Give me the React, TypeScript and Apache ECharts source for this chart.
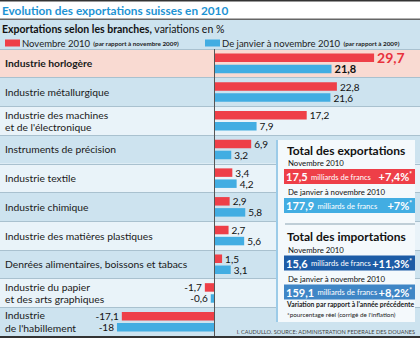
import React, { useEffect, useRef } from "react";
import * as echarts from "echarts";

// Branches, top to bottom
const categories = [
  "Industrie horlogère",
  "Industrie métallurgique",
  "Industrie des machines\net de l'électronique",
  "Instruments de précision",
  "Industrie textile",
  "Industrie chimique",
  "Industrie des matières plastiques",
  "Denrées alimentaires, boissons et tabacs",
  "Industrie du papier\net des arts graphiques",
  "Industrie\nde l'habillement",
];

// Variation in % per branch
const novembre2010 = [29.7, 22.8, 17.2, 6.9, 3.4, 2.9, 2.7, 1.5, -1.7, -17.1];
const janvierNovembre2010 = [21.8, 21.6, 7.9, 3.2, 4.2, 5.8, 5.6, 3.1, -0.6, -18];

const seriesNames = ["Novembre 2010", "De janvier à novembre 2010"];
const seriesNotes = ["(par rapport à novembre 2009)", "(par rapport à 2009)"];

// Summary totals
const exportTotals = [
  { period: "Novembre 2010", amount: "17,5", change: "+7,4%" },
  { period: "De janvier à novembre 2010", amount: "177,9", change: "+7%" },
];
const importTotals = [
  { period: "Novembre 2010", amount: "15,6", change: "+11,3%" },
  { period: "De janvier à novembre 2010", amount: "159,1", change: "+8,2%" },
];

const FONT = "Lato, 'Open Sans', sans-serif";
const RED = "#ee3f48";
const BLUE = "#42ade2";
const ROW_COLORS = [
  "#f9dad2",
  "#cde3ef",
  "#e9f3f9",
  "#cde3ef",
  "#e9f3f9",
  "#cde3ef",
  "#e9f3f9",
  "#cde3ef",
  "#e9f3f9",
  "#cde3ef",
];

const W = 420;
const H = 338;
const ZERO_X = 214; // position of the zero line
const PX_PER_UNIT = 5.39;
const GRID_TOP = 49;
const GRID_BOTTOM = 336;

const fmt = (v: number) =>
  Number.isInteger(v) ? String(v) : String(v).replace(".", ",");

function totalsBlock(
  title: string,
  y0: number,
  entries: { period: string; amount: string; change: string }[],
  colors: string[]
) {
  const els: any[] = [];
  els.push({
    type: "text",
    x: 287,
    y: y0,
    z: 110,
    style: {
      text: title,
      fontFamily: FONT,
      fontSize: 12,
      fontWeight: "bold",
      fill: "#111",
      verticalAlign: "middle",
    },
  });
  entries.forEach((e, i) => {
    const py = y0 + 13 + i * 29;
    els.push({
      type: "text",
      x: 288,
      y: py,
      z: 110,
      style: {
        text: e.period,
        fontFamily: FONT,
        fontSize: 7.8,
        fill: "#111",
        verticalAlign: "middle",
      },
    });
    els.push({
      type: "rect",
      z: 105,
      shape: { x: 284, y: py + 6, width: 131, height: 15 },
      style: { fill: colors[i] },
    });
    els.push({
      type: "text",
      x: 286,
      y: py + 13.5,
      z: 110,
      style: {
        text: `{a|${e.amount}} {b|milliards de francs}`,
        verticalAlign: "middle",
        rich: {
          a: { fontFamily: FONT, fontSize: 11, fontWeight: "bold", fill: "#fff" },
          b: { fontFamily: FONT, fontSize: 7.6, fill: "#fff" },
        },
      },
    });
    els.push({
      type: "text",
      x: 412,
      y: py + 13.5,
      z: 110,
      style: {
        text: `{c|${e.change}}{s|*}`,
        align: "right",
        verticalAlign: "middle",
        rich: {
          c: { fontFamily: FONT, fontSize: 11, fontWeight: "bold", fill: "#fff" },
          s: { fontFamily: FONT, fontSize: 6.5, fontWeight: "bold", fill: "#fff", verticalAlign: "top" },
        },
      },
    });
  });
  return els;
}

export default function App() {
  const ref = useRef<HTMLDivElement>(null);

  useEffect(() => {
    if (!ref.current) return;
    const chart = echarts.init(ref.current, null, { renderer: "svg" });

    const labelBase = {
      show: true,
      distance: 3,
      fontFamily: FONT,
      fontSize: 10,
      color: "#111",
      formatter: (p: any) => fmt(p.value),
    };

    const buildData = (vals: number[], first: any) =>
      vals.map((v, i) => ({
        value: v,
        label: {
          position: v < 0 ? "left" : "right",
          ...(i === 0 ? first : {}),
        },
      }));

    const legendRich = {
      n: { fontFamily: FONT, fontSize: 9.5, color: "#222" },
      s: { fontFamily: FONT, fontSize: 6.3, fontWeight: "bold", color: "#222" },
    };

    const legendBase = {
      top: 37,
      padding: 0,
      itemWidth: 15,
      itemHeight: 7,
      icon: "rect",
      selectedMode: false,
      textStyle: { rich: legendRich, padding: [0, 0, 0, -3] },
    };

    const graphics: any[] = [
      // frame lines
      { type: "rect", z: 120, shape: { x: 0, y: 0, width: W, height: 1.5 }, style: { fill: "#333" } },
      { type: "rect", z: 1, shape: { x: 0, y: 20, width: W, height: 29 }, style: { fill: "#cde3ef" } },
      { type: "rect", z: 120, shape: { x: 0, y: 18.5, width: W, height: 1.5 }, style: { fill: "#666" } },
      { type: "rect", z: 120, shape: { x: 0, y: 336, width: W, height: 2 }, style: { fill: "#333" } },
      {
        type: "text",
        x: 2,
        y: 29,
        z: 110,
        style: {
          text: "{b|Exportations selon les branches,}{r| variations en %}",
          verticalAlign: "middle",
          rich: {
            b: { fontFamily: FONT, fontSize: 10.5, fontWeight: "bold", fill: "#111" },
            r: { fontFamily: FONT, fontSize: 10.5, fill: "#111" },
          },
        },
      },
      // totals panel
      { type: "rect", z: 100, shape: { x: 277, y: 140, width: 138, height: 182 }, style: { fill: "#f4f9fc" } },
      { type: "rect", z: 101, shape: { x: 276, y: 140, width: 2, height: 182 }, style: { fill: "#9ccbe8" } },
      {
        type: "line",
        z: 101,
        shape: { x1: 285, y1: 224, x2: 415, y2: 224 },
        style: { stroke: "#8aa3b2", lineWidth: 1 },
      },
      ...totalsBlock("Total des exportations", 150, exportTotals, [RED, BLUE]),
      ...totalsBlock("Total des importations", 236.5, importTotals, ["#1d5ca6", "#3f86c6"]),
      {
        type: "text",
        x: 287,
        y: 304,
        z: 110,
        style: {
          text: "Variation par rapport à l'année précédente",
          fontFamily: FONT,
          fontSize: 6.8,
          fontWeight: "bold",
          fill: "#222",
          verticalAlign: "middle",
        },
      },
      {
        type: "text",
        x: 287,
        y: 314,
        z: 110,
        style: {
          text: "*pourcentage réel (corrigé de l'inflation)",
          fontFamily: FONT,
          fontSize: 6.3,
          fill: "#222",
          verticalAlign: "middle",
        },
      },
      {
        type: "text",
        x: 415,
        y: 331,
        z: 110,
        style: {
          text: "I. CAUDULLO. SOURCE: ADMINISTRATION FEDERALE DES DOUANES",
          fontFamily: FONT,
          fontSize: 5.6,
          fill: "#444",
          align: "right",
          verticalAlign: "middle",
        },
      },
    ];

    chart.setOption({
      animation: false,
      backgroundColor: "#ffffff",
      title: {
        text: "Evolution des exportations suisses en 2010",
        left: 2,
        top: 4,
        padding: 0,
        textStyle: {
          fontFamily: FONT,
          fontSize: 11.8,
          fontWeight: "bold",
          color: "#1d93d3",
        },
      },
      legend: [
        {
          ...legendBase,
          data: [seriesNames[0]],
          left: 5,
          formatter: (n: string) => `{n|${n}} {s|${seriesNotes[0]}}`,
        },
        {
          ...legendBase,
          data: [seriesNames[1]],
          left: 205,
          formatter: (n: string) => `{n|${n}} {s|${seriesNotes[1]}}`,
        },
      ],
      grid: {
        left: 0,
        right: 0,
        top: GRID_TOP,
        bottom: H - GRID_BOTTOM,
        containLabel: false,
      },
      xAxis: {
        type: "value",
        min: -ZERO_X / PX_PER_UNIT,
        max: (W - ZERO_X) / PX_PER_UNIT,
        show: false,
        splitLine: { show: false },
      },
      yAxis: {
        type: "category",
        data: categories,
        inverse: true,
        axisLine: { show: false },
        axisTick: { show: false },
        splitArea: { show: true, areaStyle: { color: ROW_COLORS } },
        splitLine: { show: true, lineStyle: { color: "#a9c1cf", width: 1 } },
        axisLabel: {
          inside: true,
          margin: 5,
          interval: 0,
          formatter: (v: string, i: number) =>
            v
              .split("\n")
              .map((l) => `{${i === 0 ? "b" : "n"}|${l}}`)
              .join("\n"),
          rich: {
            n: { fontFamily: FONT, fontSize: 10.3, color: "#1a1a1a", lineHeight: 12.5 },
            b: { fontFamily: FONT, fontSize: 10.3, fontWeight: "bold", color: "#1a1a1a", lineHeight: 12.5 },
          },
        },
      },
      series: [
        {
          name: seriesNames[0],
          type: "bar",
          barWidth: 8.5,
          barGap: "30%",
          itemStyle: { color: RED },
          label: labelBase,
          data: buildData(novembre2010, {
            color: "#e8323c",
            fontSize: 14,
            fontWeight: "bold",
          }),
          markLine: {
            silent: true,
            symbol: ["none", "none"],
            label: { show: false },
            lineStyle: { color: "#555", width: 1, type: "solid" },
            data: [{ xAxis: 0 }],
          },
        },
        {
          name: seriesNames[1],
          type: "bar",
          barWidth: 8.5,
          barGap: "30%",
          itemStyle: { color: BLUE },
          label: labelBase,
          data: buildData(janvierNovembre2010, {
            color: "#111",
            fontSize: 11,
            fontWeight: "bold",
          }),
        },
      ],
      graphic: { elements: graphics },
    });

    return () => chart.dispose();
  }, []);

  return <div ref={ref} style={{ width: W, height: H, position: "absolute", left: 0, top: 0 }} />;
}
